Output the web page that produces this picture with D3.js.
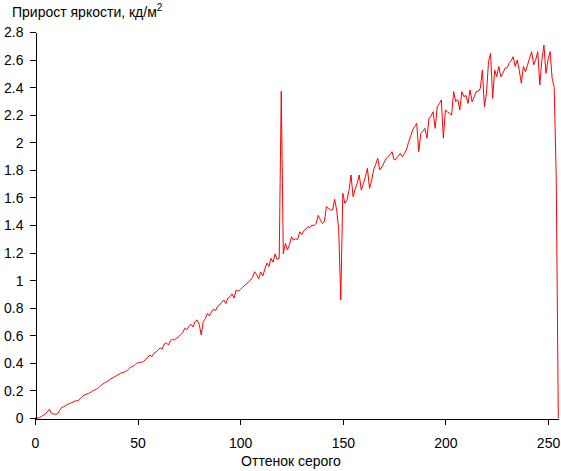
<!DOCTYPE html>
<html><head><meta charset="utf-8">
<script src="https://cdn.jsdelivr.net/npm/d3@7"></script>
<style>
body{margin:0;background:#fff;}
svg{display:block;font-family:"Liberation Sans",Arial,sans-serif;}
</style></head>
<body>
<svg id="chart" width="561" height="471"></svg>
<script>
const titleText = "Прирост яркости, кд/м";
const xTitle = "Оттенок серого";
const xTicks = [0, 50, 100, 150, 200, 250];
const yTicks = [0, 0.2, 0.4, 0.6, 0.8, 1, 1.2, 1.4, 1.6, 1.8, 2, 2.2, 2.4, 2.6, 2.8];
// brightness increment per grey level 0..255
const values = [
  0, 0, 0, 0.01, 0.02, 0.03, 0.045, 0.063, 0.035, 0.028,
  0.028, 0.03, 0.055, 0.077, 0.082, 0.09, 0.1, 0.105, 0.112, 0.12,
  0.125, 0.126, 0.14, 0.155, 0.167, 0.172, 0.178, 0.185, 0.195, 0.203,
  0.21, 0.22, 0.235, 0.245, 0.256, 0.265, 0.272, 0.285, 0.293, 0.3,
  0.31, 0.318, 0.328, 0.33, 0.336, 0.345, 0.36, 0.372, 0.378, 0.39,
  0.4, 0.405, 0.404, 0.412, 0.425, 0.44, 0.457, 0.445, 0.47, 0.48,
  0.493, 0.51, 0.5, 0.537, 0.545, 0.53, 0.56, 0.571, 0.565, 0.58,
  0.59, 0.605, 0.62, 0.651, 0.64, 0.665, 0.68, 0.66, 0.7, 0.711,
  0.68, 0.602, 0.7, 0.72, 0.759, 0.74, 0.77, 0.79, 0.78, 0.81,
  0.82, 0.84, 0.856, 0.83, 0.87, 0.88, 0.9, 0.87, 0.928, 0.92,
  0.93, 0.945, 0.96, 0.97, 0.989, 1.0, 1.02, 1.061, 1.04, 1.01,
  1.06, 1.03, 1.08, 1.124, 1.10, 1.158, 1.13, 1.19, 1.15, 1.16,
  2.37, 1.19, 1.267, 1.22, 1.257, 1.315, 1.29, 1.3, 1.296, 1.351,
  1.33, 1.36, 1.37, 1.388, 1.38, 1.4, 1.395, 1.412, 1.47, 1.44,
  1.41, 1.424, 1.533, 1.52, 1.51, 1.509, 1.587, 1.509, 1.364, 0.856,
  1.63, 1.557, 1.58, 1.65, 1.763, 1.605, 1.66, 1.702, 1.763, 1.654,
  1.7, 1.75, 1.811, 1.666, 1.72, 1.799, 1.84, 1.884, 1.8, 1.82,
  1.85, 1.88, 1.896, 1.91, 1.932, 1.872, 1.88, 1.9, 1.92, 1.895,
  1.92, 1.944, 2.0, 2.04, 2.09, 2.113, 2.138, 1.932, 2.065, 2.08,
  2.101, 2.029, 2.174, 2.19, 2.222, 2.101, 2.258, 2.28, 2.307, 2.029,
  2.234, 2.22, 2.21, 2.198, 2.367, 2.294, 2.31, 2.234, 2.367, 2.331,
  2.34, 2.282, 2.379, 2.294, 2.33, 2.367, 2.37, 2.391, 2.524, 2.258,
  2.355, 2.585, 2.645, 2.319, 2.524, 2.476, 2.55, 2.476, 2.5, 2.537,
  2.54, 2.573, 2.59, 2.621, 2.55, 2.597, 2.52, 2.428, 2.55, 2.512,
  2.56, 2.61, 2.657, 2.561, 2.6, 2.657, 2.416, 2.6, 2.706, 2.5,
  2.6, 2.657, 2.464, 2.4, 1.74, 0
];
const grey = values.map((v, i) => i);

const svg = d3.select("#chart");
const x = d3.scaleLinear().domain([0, 255]).range([35, 558.3]);
const y = d3.scaleLinear().domain([0, 2.8]).range([418, 32]);

// line
const line = d3.line().x((d, i) => x(grey[i])).y(d => y(d));
svg.append("path").datum(values)
  .attr("fill", "none").attr("stroke", "#ff0000").attr("stroke-width", 1)
  .attr("d", line);

// axes
const xAxis = svg.append("g").attr("transform", "translate(0,418.5)")
  .call(d3.axisBottom(x).tickValues(xTicks).tickSize(6).tickSizeOuter(0).tickFormat(d3.format("d")));
const yAxis = svg.append("g").attr("transform", "translate(35.5,0)")
  .call(d3.axisLeft(y).tickValues(yTicks).tickSize(6).tickSizeOuter(0).tickFormat(d => String(+d.toFixed(1))));
[xAxis, yAxis].forEach(g => {
  g.selectAll("path,line").attr("stroke", "#000").attr("shape-rendering", "crispEdges");
  g.selectAll("text").attr("fill", "#000").style("font-size", "14px").style("font-family", "'Liberation Sans', Arial, sans-serif");
});
xAxis.selectAll("text").attr("dy", null).attr("y", 29);
yAxis.selectAll("text").attr("x", -12).attr("dy", "0.35em");

// titles
const t = svg.append("text").attr("x", 12).attr("y", 17).style("font-size", "14px").attr("fill", "#000");
t.append("tspan").text(titleText);
t.append("tspan").attr("dy", -6).style("font-size", "10px").text("2");

svg.append("text").attr("x", 291).attr("y", 466).attr("text-anchor", "middle")
  .style("font-size", "14px").attr("fill", "#000").text(xTitle);
</script>
</body></html>
